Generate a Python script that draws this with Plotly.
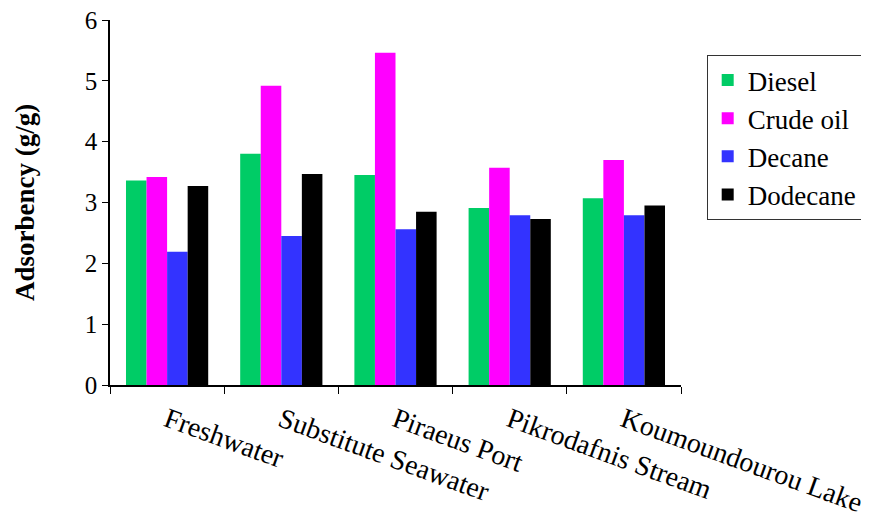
import plotly.graph_objects as go

categories = ["Freshwater", "Substitute Seawater", "Piraeus Port", "Pikrodafnis Stream", "Koumoundourou Lake"]
series_names = ["Diesel", "Crude oil", "Decane", "Dodecane"]
diesel = [3.36, 3.80, 3.45, 2.91, 3.07]
crude_oil = [3.42, 4.92, 5.46, 3.57, 3.70]
decane = [2.19, 2.45, 2.56, 2.79, 2.79]
dodecane = [3.27, 3.47, 2.85, 2.73, 2.95]
y_ticks = [0, 1, 2, 3, 4, 5, 6]

colors = ["#00CC66", "#FF00FF", "#3333FF", "#000000"]
values = [diesel, crude_oil, decane, dodecane]

font_family = "Liberation Serif, Times New Roman, serif"

fig = go.Figure()
for i, (name, vals, col) in enumerate(zip(series_names, values, colors)):
    fig.add_trace(go.Bar(
        x=categories, y=vals, name=name, legendgroup=name,
        marker=dict(color=col, line=dict(width=0)),
    ))

fig.update_layout(
    barmode="group",
    bargap=0.28,
    bargroupgap=0,
    width=869, height=520,
    margin=dict(l=102, r=196, t=12, b=143),
    paper_bgcolor="white",
    plot_bgcolor="white",
    font=dict(family=font_family, size=22, color="black"),
    showlegend=True,
    legend=dict(
        x=1.045, y=0.904, xanchor="left", yanchor="top",
        bordercolor="#333333", borderwidth=1,
        font=dict(family=font_family, size=27, color="black"),
        traceorder="grouped", tracegroupgap=0,
        itemsizing="constant", itemwidth=30,
    ),
)

fig.update_xaxes(
    type="category",
    automargin=False,
    showline=True, linecolor="black", linewidth=1.5,
    ticks="outside", ticklen=7, tickcolor="black", tickwidth=1,
    tickson="boundaries",
    tickangle=20,
    ticklabelstandoff=6,
    ticklabeloverflow="allow",
    tickfont=dict(family=font_family, size=28, color="black"),
    showgrid=False,
)
fig.update_yaxes(
    range=[0, 6],
    automargin=False,
    tickvals=y_ticks,
    showline=True, linecolor="black", linewidth=1.5,
    ticks="outside", ticklen=6, tickcolor="black",
    ticklabelstandoff=0,
    ticklabeloverflow="allow",
    tickfont=dict(family=font_family, size=25, color="black"),
    showgrid=False, zeroline=False,
    title=dict(text="<b>Adsorbency (g/g)</b>", font=dict(family=font_family, size=27, color="black"), standoff=42),
)

fig.write_html("out.html")
